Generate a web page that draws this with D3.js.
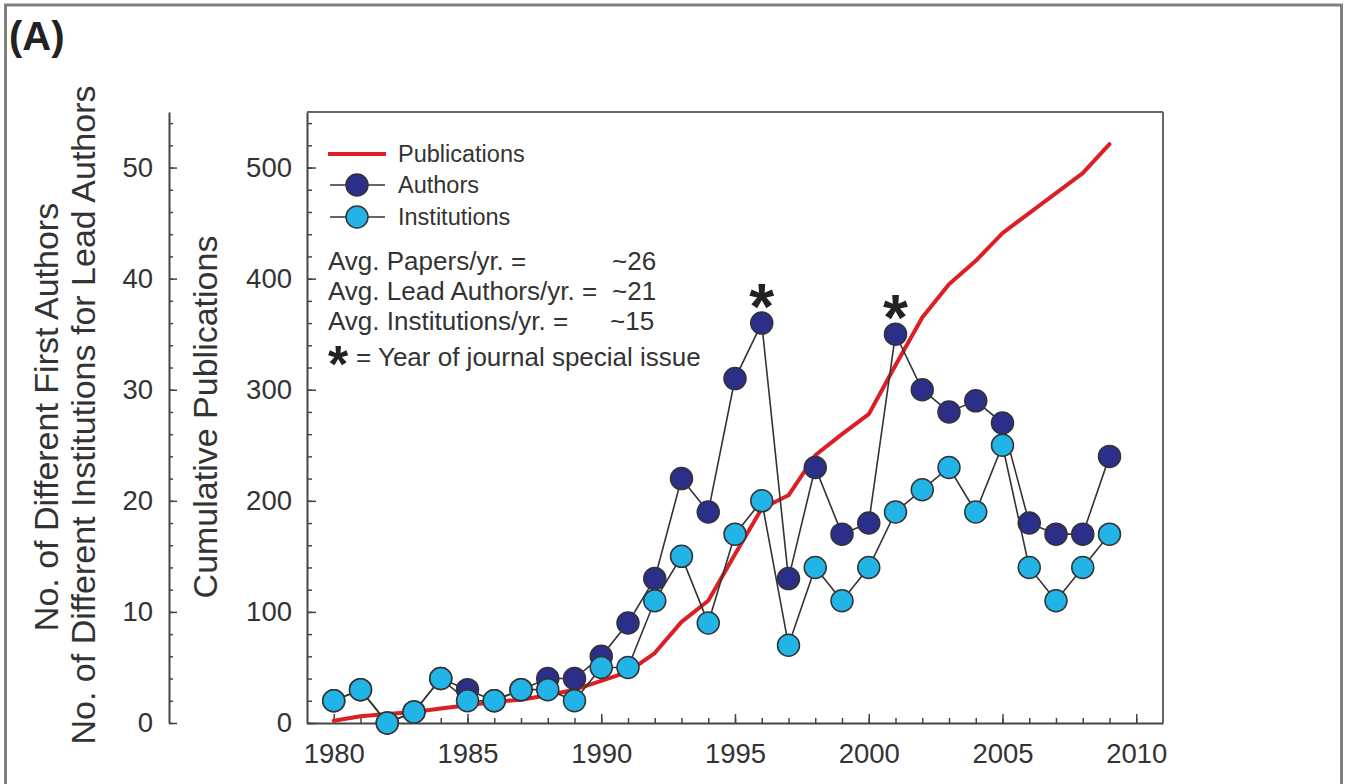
<!DOCTYPE html>
<html><head><meta charset="utf-8">
<script src="https://cdn.jsdelivr.net/npm/d3@7"></script>
<style>
html,body{margin:0;padding:0;background:#fff;}
svg{display:block;font-family:"Liberation Sans",Arial,Helvetica,sans-serif;}
</style></head><body>
<svg id="chart" width="1346" height="784"></svg>
<script>
// ---- data ----
const years = [1980,1981,1982,1983,1984,1985,1986,1987,1988,1989,1990,1991,1992,1993,1994,1995,1996,1997,1998,1999,2000,2001,2002,2003,2004,2005,2006,2007,2008,2009];
const publications = [2,6,8,10,13,16,19,21,25,30,38,46,63,91,110,152,193,205,241,260,278,322,365,395,416,441,459,477,495,521];
const authors      = [2,3,0,1,4,3,2,3,4,4,6,9,13,22,19,31,36,13,23,17,18,35,30,28,29,27,18,17,17,24];
const institutions = [2,3,0,1,4,2,2,3,3,2,5,5,11,15,9,17,20,7,14,11,14,19,21,23,19,25,14,11,14,17];
const xMajorTicks = [1980,1985,1990,1995,2000,2005,2010];
const countTicks = [0,10,20,30,40,50];
const pubTicks = [0,100,200,300,400,500];
const specialIssueYears = [1996,2001];
const legendLabels = ["Publications","Authors","Institutions"];
const noteLabels = ["Avg. Papers/yr. =","Avg. Lead Authors/yr. =","Avg. Institutions/yr. ="];
const noteValues = ["~26","~21","~15"];
const starNote = "= Year of journal special issue";
const countTitle1 = "No. of Different First Authors";
const countTitle2 = "No. of Different Institutions for Lead Authors";
const pubTitle = "Cumulative Publications";
const panelLabel = "(A)";

// ---- style ----
const RED = "#dc1f26", NAVY = "#2c2f8a", CYAN = "#22b4e6", TXT = "#333", AX = "#444";
const L = 307, R = 1163, T = 112, B = 723, LEFT2 = 169;

const svg = d3.select("#chart");
svg.append("rect").attr("x",5.5).attr("y",5).attr("width",1336).attr("height",800)
  .attr("fill","none").attr("stroke","#808080").attr("stroke-width",3);

svg.append("text").attr("x",9).attr("y",50).attr("font-size",40).attr("font-weight","bold")
  .attr("fill","#222").text(panelLabel);

const x = d3.scaleLinear().domain([1979,2011]).range([L,R]);
const yPub = d3.scaleLinear().domain([0,550]).range([B,T]);
const yCnt = d3.scaleLinear().domain([0,55]).range([B,T]);

function styleAxis(g){
  g.selectAll("path").attr("stroke",AX).attr("stroke-width",2);
  g.selectAll("line").attr("stroke",AX).attr("stroke-width",1.5);
  g.selectAll("text").attr("fill",TXT).attr("font-size",27.5);
  g.attr("font-family",null).attr("font-size",null);
}

// left count axis (separate)
const gc = svg.append("g").attr("transform",`translate(${LEFT2},0)`);
gc.call(d3.axisLeft(yCnt).tickValues(d3.range(0,55,2)).tickFormat("").tickSize(-4).tickSizeOuter(0));
gc.call(g=>g.selectAll(".domain").remove());
const gc2 = svg.append("g").attr("transform",`translate(${LEFT2},0)`);
gc2.call(d3.axisLeft(yCnt).tickValues(countTicks).tickSize(-8).tickSizeOuter(0).tickPadding(16));
styleAxis(gc); styleAxis(gc2);

// main left axis
const gp = svg.append("g").attr("transform",`translate(${L},0)`);
gp.call(d3.axisLeft(yPub).tickValues(d3.range(0,551,20)).tickFormat("").tickSize(-5).tickSizeOuter(0));
gp.call(g=>g.selectAll(".domain").remove());
const gp2 = svg.append("g").attr("transform",`translate(${L},0)`);
gp2.call(d3.axisLeft(yPub).tickValues(pubTicks).tickSize(-9).tickSizeOuter(0).tickPadding(15));
styleAxis(gp); styleAxis(gp2);

// bottom axis
const gx = svg.append("g").attr("transform",`translate(0,${B})`);
gx.call(d3.axisBottom(x).tickValues(d3.range(1980,2011)).tickFormat("").tickSize(-5).tickSizeOuter(0));
gx.call(g=>g.selectAll(".domain").remove());
const gx2 = svg.append("g").attr("transform",`translate(0,${B})`);
gx2.call(d3.axisBottom(x).tickValues(xMajorTicks).tickFormat(d3.format("d")).tickSize(-9).tickSizeOuter(0).tickPadding(20));
styleAxis(gx); styleAxis(gx2);

// top and right frame
svg.append("line").attr("x1",L).attr("x2",R).attr("y1",T).attr("y2",T).attr("stroke","#666").attr("stroke-width",2);
svg.append("line").attr("x1",R).attr("x2",R).attr("y1",T).attr("y2",B).attr("stroke","#666").attr("stroke-width",2);

// axis titles
svg.append("text").attr("transform",`translate(58,417) rotate(-90)`).attr("text-anchor","middle")
  .attr("font-size",34).attr("fill",TXT).text(countTitle1);
svg.append("text").attr("transform",`translate(95,415) rotate(-90)`).attr("text-anchor","middle")
  .attr("font-size",34).attr("fill",TXT).text(countTitle2);
svg.append("text").attr("transform",`translate(217,417) rotate(-90)`).attr("text-anchor","middle")
  .attr("font-size",34).attr("fill",TXT).text(pubTitle);

// publications line
const pubData = years.map((y,i)=>[y,publications[i]]);
svg.append("path").datum(pubData)
  .attr("d", d3.line().x(d=>x(d[0])).y(d=>yPub(d[1])))
  .attr("fill","none").attr("stroke",RED).attr("stroke-width",4).attr("stroke-linejoin","round").attr("stroke-linecap","round");

function series(vals, color){
  const data = years.map((y,i)=>[y,vals[i]]);
  const g = svg.append("g");
  g.append("path").datum(data).attr("d", d3.line().x(d=>x(d[0])).y(d=>yCnt(d[1])))
    .attr("fill","none").attr("stroke","#333").attr("stroke-width",1.6);
  g.selectAll("circle").data(data).join("circle")
    .attr("cx",d=>x(d[0])).attr("cy",d=>yCnt(d[1])).attr("r",11)
    .attr("fill",color).attr("stroke","#333").attr("stroke-width",1.5);
}
series(authors, NAVY);
series(institutions, CYAN);

// special issue asterisks
svg.selectAll("text.star").data(specialIssueYears).join("text").attr("class","star")
  .attr("x",d=>x(d)).attr("y",d=>yCnt(authors[years.indexOf(d)])+6)
  .attr("text-anchor","middle").attr("font-size",64).attr("font-weight","bold").attr("fill","#222").text("*");

// legend
const lg = svg.append("g");
lg.append("line").attr("x1",328).attr("x2",386).attr("y1",154).attr("y2",154).attr("stroke",RED).attr("stroke-width",4);
[[NAVY,185],[CYAN,217]].forEach(([c,yy])=>{
  lg.append("line").attr("x1",330).attr("x2",385).attr("y1",yy).attr("y2",yy).attr("stroke","#333").attr("stroke-width",1.6);
  lg.append("circle").attr("cx",357).attr("cy",yy).attr("r",11).attr("fill",c).attr("stroke","#333").attr("stroke-width",1.5);
});
lg.selectAll("text.leg").data(legendLabels).join("text").attr("class","leg")
  .attr("x",398).attr("y",(d,i)=>[162,193,225][i]).attr("font-size",23.5).attr("fill",TXT).text(d=>d);

lg.selectAll("text.note").data(noteLabels).join("text").attr("class","note")
  .attr("x",328).attr("y",(d,i)=>270+30*i).attr("font-size",26).attr("fill",TXT).text(d=>d);
lg.selectAll("text.noteval").data(noteValues).join("text").attr("class","noteval")
  .attr("x",(d,i)=>[612,612,610][i]).attr("y",(d,i)=>270+30*i).attr("font-size",26).attr("fill",TXT).text(d=>d);
lg.append("text").attr("x",338).attr("y",382).attr("text-anchor","middle").attr("font-size",52).attr("font-weight","bold").attr("fill","#222").text("*");
lg.append("text").attr("x",356).attr("y",366).attr("font-size",26).attr("fill",TXT).text(starNote);
</script></body></html>
